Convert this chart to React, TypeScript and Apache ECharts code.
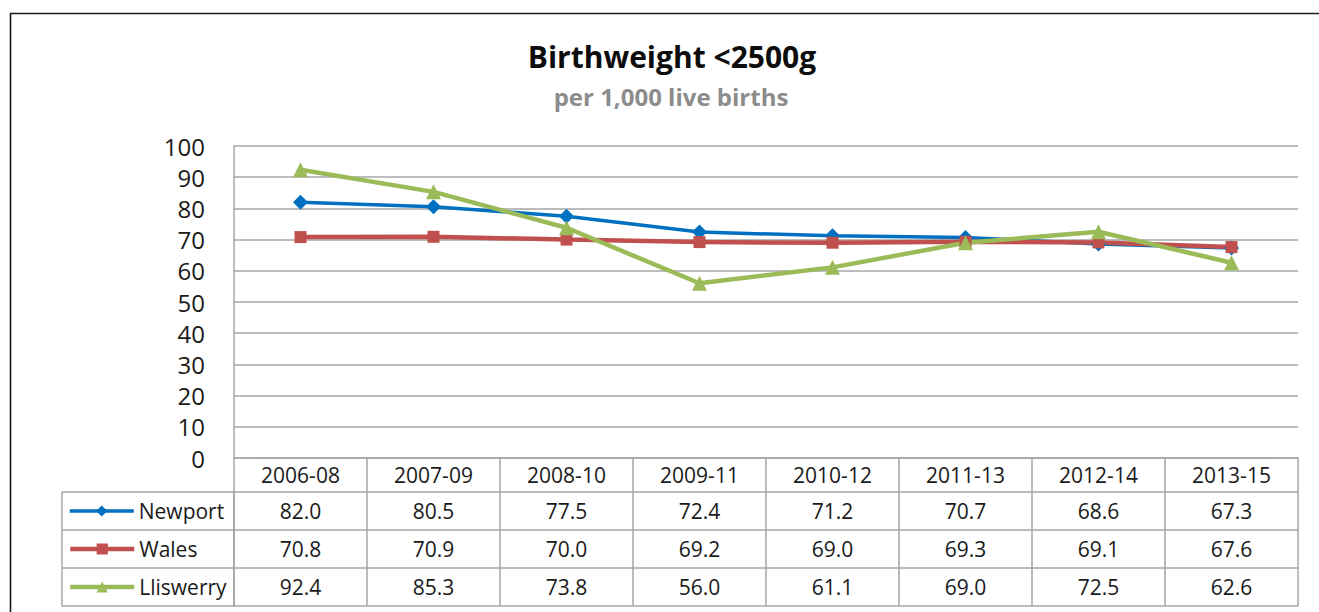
import React, { useEffect, useRef } from "react";
import * as echarts from "echarts";

const categories = ["2006-08", "2007-09", "2008-10", "2009-11", "2010-12", "2011-13", "2012-14", "2013-15"];
const newport = [82.0, 80.5, 77.5, 72.4, 71.2, 70.7, 68.6, 67.3];
const wales = [70.8, 70.9, 70.0, 69.2, 69.0, 69.3, 69.1, 67.6];
const lliswerry = [92.4, 85.3, 73.8, 56.0, 61.1, 69.0, 72.5, 62.6];
const yTicks = { min: 0, max: 100, interval: 10 };
const titleText = "Birthweight <2500g";
const subtitleText = "per 1,000 live births";

const seriesDefs = [
  { name: "Newport", data: newport, color: "#0070C0", symbol: "diamond", symbolSize: 15, width: 3.5 },
  { name: "Wales", data: wales, color: "#C0504D", symbol: "rect", symbolSize: 12, width: 4.5 },
  { name: "Lliswerry", data: lliswerry, color: "#9BBB59", symbol: "triangle", symbolSize: 15, width: 4.5 },
];

const FONT = "Open Sans";
const W = 1319;
const H = 612;
const GRID_LEFT = 234;
const GRID_RIGHT = 21;
const GRID_TOP = 146;
const GRID_BOTTOM = 154;
const HEADER_H = 34;
const ROW_H = 38;
const LEG_LEFT = 62;
const BORDER = "#A6A6A6";

export default function App() {
  const ref = useRef<HTMLDivElement>(null);
  useEffect(() => {
    document.body.style.margin = "0";
    const chart = echarts.init(ref.current!, null, { renderer: "svg" });
    const axisY = H - GRID_BOTTOM;

    const xAxes: any[] = [
      {
        type: "category",
        data: categories,
        position: "bottom",
        offset: 0,
        boundaryGap: true,
        axisLine: { show: true, lineStyle: { color: BORDER, width: 1.5 } },
        axisTick: { show: true, length: HEADER_H, lineStyle: { color: BORDER, width: 1.5 } },
        axisLabel: {
          fontFamily: FONT, fontSize: 21, color: "#1a1a1a",
          margin: HEADER_H / 2, verticalAlign: "middle", interval: 0,
        },
      },
    ];
    seriesDefs.forEach((s, r) => {
      xAxes.push({
        type: "category",
        data: categories,
        position: "bottom",
        offset: HEADER_H + r * ROW_H,
        boundaryGap: true,
        axisLine: { show: true, lineStyle: { color: BORDER, width: 1.5 } },
        axisTick: { show: true, length: ROW_H, lineStyle: { color: BORDER, width: 1.5 } },
        axisLabel: {
          fontFamily: FONT, fontSize: 21, color: "#1a1a1a",
          margin: ROW_H / 2, verticalAlign: "middle", interval: 0,
          formatter: (_v: string, i: number) => s.data[i].toFixed(1),
        },
      });
    });
    xAxes.push({
      type: "category",
      data: categories,
      position: "bottom",
      offset: HEADER_H + seriesDefs.length * ROW_H,
      boundaryGap: true,
      axisLine: { show: true, lineStyle: { color: BORDER, width: 1.5 } },
      axisTick: { show: false },
      axisLabel: { show: false },
    });

    const tableTop = axisY + HEADER_H;
    const graphics: any[] = [
      {
        type: "rect",
        shape: { x: 10.5, y: 13.5, width: 1400, height: 700 },
        style: { fill: "none", stroke: "#1a1a1a", lineWidth: 1.6 },
        silent: true,
      },
      {
        type: "rect",
        shape: { x: LEG_LEFT, y: tableTop, width: GRID_LEFT - LEG_LEFT, height: ROW_H * seriesDefs.length },
        style: { fill: "none", stroke: BORDER, lineWidth: 1.5 },
        silent: true,
      },
    ];
    for (let r = 1; r < seriesDefs.length; r++) {
      graphics.push({
        type: "line",
        shape: { x1: LEG_LEFT, y1: tableTop + r * ROW_H, x2: GRID_LEFT, y2: tableTop + r * ROW_H },
        style: { stroke: BORDER, lineWidth: 1.5 },
        silent: true,
      });
    }

    const legends = seriesDefs.map((s, r) => ({
      data: [s.name],
      orient: "horizontal",
      left: LEG_LEFT + 6,
      top: tableTop + r * ROW_H + 7,
      itemWidth: 64,
      itemHeight: 14,
      itemGap: 4,
      padding: 0,
      selectedMode: false,
      lineStyle: { width: s.width },
      textStyle: { fontFamily: FONT, fontSize: 21, color: "#1a1a1a", lineHeight: 24 },
    }));

    chart.setOption({
      animation: false,
      backgroundColor: "#ffffff",
      title: [
        {
          text: titleText,
          left: 667,
          top: 36,
          textAlign: "center",
          textStyle: { fontFamily: FONT, fontSize: 30, fontWeight: "bold", color: "#0d0d0d" },
        },
        {
          text: subtitleText,
          left: 666,
          top: 79,
          textAlign: "center",
          textStyle: { fontFamily: FONT, fontSize: 24, fontWeight: "bold", color: "#8c8c8c" },
        },
      ],
      legend: legends,
      grid: { left: GRID_LEFT, right: GRID_RIGHT, top: GRID_TOP, bottom: GRID_BOTTOM, containLabel: false },
      xAxis: xAxes,
      yAxis: {
        type: "value",
        min: yTicks.min,
        max: yTicks.max,
        interval: yTicks.interval,
        axisLine: { show: true, lineStyle: { color: BORDER, width: 1.5 } },
        axisTick: { show: false },
        splitLine: { show: true, lineStyle: { color: BORDER, width: 1.5 } },
        axisLabel: { fontFamily: FONT, fontSize: 24, color: "#1a1a1a", margin: 29 },
      },
      graphic: graphics,
      series: seriesDefs.map((s) => ({
        name: s.name,
        type: "line",
        xAxisIndex: 0,
        data: s.data,
        symbol: s.symbol,
        symbolSize: s.symbolSize,
        showSymbol: true,
        color: s.color,
        lineStyle: { color: s.color, width: s.width },
        itemStyle: { color: s.color },
      })),
    });
    return () => chart.dispose();
  }, []);
  return <div ref={ref} style={{ width: W, height: H }} />;
}
